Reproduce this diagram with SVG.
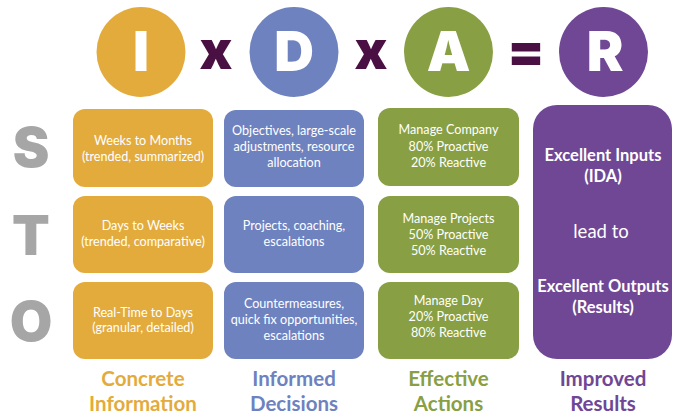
<svg xmlns="http://www.w3.org/2000/svg" width="673" height="416" viewBox="0 0 673 416">
  <style>
    .big { font-family: Inter, "Liberation Sans", sans-serif; font-weight: 900; text-anchor: middle; }
    .letter { font-size: 55px; fill: #ffffff; }
    .op { font-size: 54px; fill: #4a0f43; }
    .row { font-size: 55px; fill: #a6a6a6; }
    .cell { font-family: Lato, "Open Sans", sans-serif; font-size: 12.6px; fill: #ffffff; text-anchor: middle; }
    .res { font-family: Lato, "Open Sans", sans-serif; fill: #ffffff; text-anchor: middle; }
    .lbl { font-family: Lato, "Open Sans", sans-serif; font-size: 20.5px; font-weight: bold; text-anchor: middle; }
    .or { fill: #e3ab3c; }
    .bl { fill: #6e82bf; }
    .gr { fill: #88a043; }
    .pu { fill: #6f4795; }
  </style>

  <!-- equation: I x D x A = R -->
  <g id="eq-i"><ellipse class="or" cx="141" cy="52" rx="44.5" ry="45"/><text class="big letter" x="141" y="71">I</text></g>
  <g id="op-times-1"><text class="big op" x="216" y="69">x</text></g>
  <g id="eq-d"><ellipse class="bl" cx="294" cy="52" rx="44.5" ry="45"/><text class="big letter" x="294" y="71">D</text></g>
  <g id="op-times-2"><text class="big op" x="371" y="69">x</text></g>
  <g id="eq-a"><ellipse class="gr" cx="448.5" cy="52" rx="44.5" ry="45"/><text class="big letter" x="448.5" y="71">A</text></g>
  <g id="op-equals"><text class="big op" x="526" y="70">=</text></g>
  <g id="eq-r"><ellipse class="pu" cx="603.5" cy="52" rx="44.5" ry="45"/><text class="big letter" x="605" y="71">R</text></g>

  <!-- S / T / O row headings -->
  <g id="row-s"><text class="big row" x="31" y="167">S</text></g>
  <g id="row-t"><text class="big row" x="31" y="255">T</text></g>
  <g id="row-o"><text class="big row" x="31" y="341">O</text></g>

  <!-- Information column -->
  <g id="info-s"><rect class="or" x="73" y="109" width="140" height="78" rx="12"/>
    <text class="cell" x="143" y="145">Weeks to Months</text><text class="cell" x="143" y="161">(trended, summarized)</text></g>
  <g id="info-t"><rect class="or" x="73" y="196" width="140" height="77" rx="12"/>
    <text class="cell" x="143" y="230">Days to Weeks</text><text class="cell" x="143" y="246">(trended, comparative)</text></g>
  <g id="info-o"><rect class="or" x="73" y="282" width="140" height="77" rx="12"/>
    <text class="cell" x="143" y="317">Real-Time to Days</text><text class="cell" x="143" y="332">(granular, detailed)</text></g>

  <!-- Decisions column -->
  <g id="dec-s"><rect class="bl" x="224" y="110" width="140" height="77" rx="12"/>
    <text class="cell" x="294" y="135">Objectives, large-scale</text><text class="cell" x="294" y="151">adjustments, resource</text><text class="cell" x="294" y="167">allocation</text></g>
  <g id="dec-t"><rect class="bl" x="224" y="196" width="140" height="77" rx="12"/>
    <text class="cell" x="294" y="230">Projects, coaching,</text><text class="cell" x="294" y="246">escalations</text></g>
  <g id="dec-o"><rect class="bl" x="224" y="282" width="140" height="77" rx="12"/>
    <text class="cell" x="294" y="308">Countermeasures,</text><text class="cell" x="294" y="324">quick fix opportunities,</text><text class="cell" x="294" y="340">escalations</text></g>

  <!-- Actions column -->
  <g id="act-s"><rect class="gr" x="378" y="108" width="141" height="78" rx="12"/>
    <text class="cell" x="448.5" y="134">Manage Company</text><text class="cell" x="448.5" y="151">80% Proactive</text><text class="cell" x="448.5" y="167">20% Reactive</text></g>
  <g id="act-t"><rect class="gr" x="378" y="196" width="141" height="77" rx="12"/>
    <text class="cell" x="448.5" y="223">Manage Projects</text><text class="cell" x="448.5" y="239">50% Proactive</text><text class="cell" x="448.5" y="255">50% Reactive</text></g>
  <g id="act-o"><rect class="gr" x="378" y="282" width="141" height="77" rx="12"/>
    <text class="cell" x="448.5" y="305">Manage Day</text><text class="cell" x="448.5" y="321">20% Proactive</text><text class="cell" x="448.5" y="337">80% Reactive</text></g>

  <!-- Results column -->
  <g id="results"><rect class="pu" x="533" y="105" width="139" height="254" rx="24"/>
    <text class="res" x="603" y="161" font-size="16.5" font-weight="bold">Excellent Inputs</text>
    <text class="res" x="603" y="182" font-size="16.5" font-weight="bold">(IDA)</text>
    <text class="res" x="601" y="238" font-size="18.5">lead to</text>
    <text class="res" x="603" y="292" font-size="16.5" font-weight="bold">Excellent Outputs</text>
    <text class="res" x="603" y="313" font-size="16.5" font-weight="bold">(Results)</text></g>

  <!-- column captions -->
  <g id="cap-info"><text class="lbl or" x="143" y="386">Concrete</text><text class="lbl or" x="143" y="411">Information</text></g>
  <g id="cap-dec"><text class="lbl bl" x="294" y="386">Informed</text><text class="lbl bl" x="294" y="411">Decisions</text></g>
  <g id="cap-act"><text class="lbl gr" x="448.5" y="386">Effective</text><text class="lbl gr" x="448.5" y="411">Actions</text></g>
  <g id="cap-res"><text class="lbl pu" x="603" y="386">Improved</text><text class="lbl pu" x="603" y="411">Results</text></g>
</svg>
